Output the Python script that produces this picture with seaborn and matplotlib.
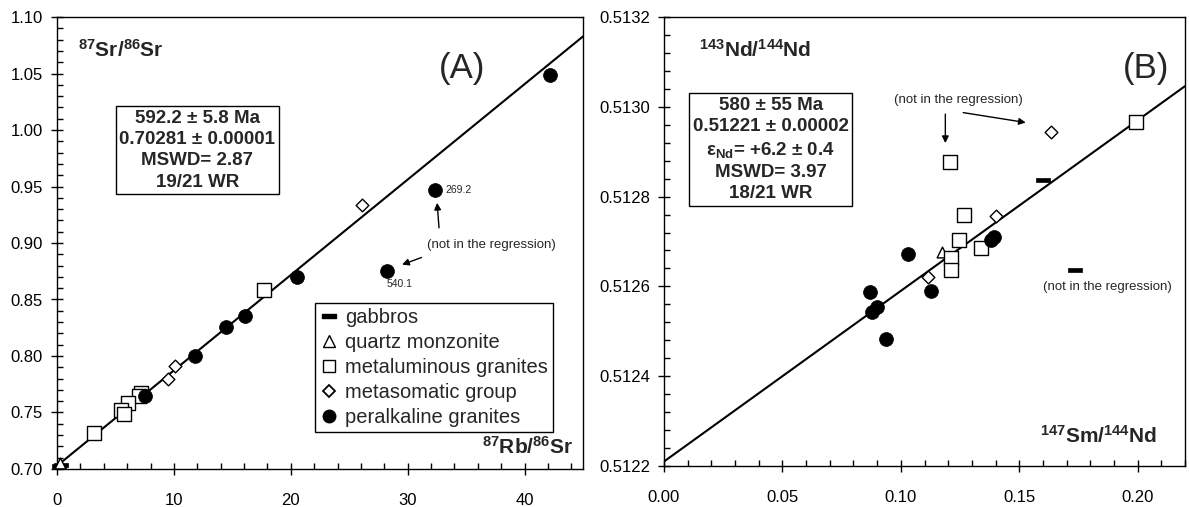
import matplotlib
matplotlib.use("Agg")
import matplotlib.pyplot as plt
import seaborn as sns
import pandas as pd
from matplotlib.ticker import MultipleLocator, FormatStrFormatter
from matplotlib.path import Path
from matplotlib.lines import Line2D

# ---------------- data: panel A (Rb-Sr) ----------------
a_peralk_x = [42.2, 32.3, 28.2, 20.5, 16.1, 14.5, 11.8, 7.5]
a_peralk_y = [1.049, 0.947, 0.875, 0.870, 0.835, 0.826, 0.800, 0.765]
a_metal_x = [17.7, 7.2, 7.0, 6.1, 5.5, 5.7, 3.2]
a_metal_y = [0.858, 0.767, 0.765, 0.758, 0.752, 0.749, 0.732]
a_metas_x = [26.1, 10.1, 9.5]
a_metas_y = [0.934, 0.791, 0.780]
a_qm_x = [0.25]
a_qm_y = [0.7055]
a_gab_x = [0.15, 0.35]
a_gab_y = [0.7028, 0.7034]
a_line_x = [0.0, 45.0]
a_line_y = [0.70281, 1.0828]

# ---------------- data: panel B (Sm-Nd) ----------------
b_peralk_x = [0.0869, 0.0877, 0.0901, 0.0936, 0.1029, 0.1128, 0.1380, 0.1395]
b_peralk_y = [0.512587, 0.512542, 0.512554, 0.512483, 0.512672, 0.512589, 0.512704, 0.512711]
b_metal_x = [0.1994, 0.1207, 0.1268, 0.1247, 0.1337, 0.1212, 0.1212]
b_metal_y = [0.512966, 0.512876, 0.512758, 0.512703, 0.512685, 0.512663, 0.512637]
b_metas_x = [0.1635, 0.1404, 0.1115]
b_metas_y = [0.512944, 0.512757, 0.512622]
b_qm_x = [0.1172]
b_qm_y = [0.512677]
b_gab_x = [0.1600, 0.1734]
b_gab_y = [0.512838, 0.512637]
b_line_x = [0.0, 0.22]
b_line_y = [0.51221, 0.513046]

groups = ["gabbros", "quartz monzonite", "metaluminous granites",
          "metasomatic group", "peralkaline granites"]

sns.set_theme(style="ticks")
plt.rcParams["font.family"] = ["Liberation Sans", "DejaVu Sans"]
plt.rcParams["mathtext.fontset"] = "custom"
plt.rcParams["mathtext.rm"] = "Liberation Sans"
plt.rcParams["mathtext.bf"] = "Liberation Sans:bold"
plt.rcParams["mathtext.it"] = "Liberation Sans:italic"

dash = Path([(-1, -0.3), (1, -0.3), (1, 0.3), (-1, 0.3), (-1, -0.3)],
            [Path.MOVETO, Path.LINETO, Path.LINETO, Path.LINETO, Path.CLOSEPOLY])

styles = {
    "gabbros": dict(marker=dash, color="black", edgecolor="black", s=90, linewidth=0.5),
    "quartz monzonite": dict(marker="^", color="white", edgecolor="black", s=60, linewidth=1.0),
    "metaluminous granites": dict(marker="s", color="white", edgecolor="black", s=90, linewidth=1.0),
    "metasomatic group": dict(marker="D", color="white", edgecolor="black", s=42, linewidth=1.0),
    "peralkaline granites": dict(marker="o", color="black", edgecolor="black", s=100, linewidth=0.5),
}

fig = plt.figure(figsize=(11.89, 5.07), dpi=100)
axA = fig.add_axes([57 / 1189, (507 - 469) / 507, 526 / 1189, 452 / 507])
axB = fig.add_axes([664 / 1189, (507 - 466) / 507, 521 / 1189, 449 / 507])


def draw(ax, sets, line_x, line_y):
    sns.lineplot(x=line_x, y=line_y, ax=ax, color="black", linewidth=1.5, zorder=1)
    for name, (xs, ys) in zip(groups, sets):
        df = pd.DataFrame({"x": xs, "y": ys})
        sns.scatterplot(data=df, x="x", y="y", ax=ax, zorder=3, clip_on=False, **styles[name])
    ax.set_xlabel("")
    ax.set_ylabel("")
    for sp in ax.spines.values():
        sp.set_visible(True)
        sp.set_color("black")
        sp.set_linewidth(1.0)
    ax.tick_params(which="major", direction="inout", length=8, width=1,
                   labelsize=12, colors="black")
    ax.tick_params(which="minor", direction="in", length=4, width=1, colors="black")
    ax.tick_params(axis="x", which="major", pad=13)
    ax.tick_params(axis="y", which="major", pad=6)
    ax.tick_params(top=False, right=False, which="both")


draw(axA, [(a_gab_x, a_gab_y), (a_qm_x, a_qm_y), (a_metal_x, a_metal_y),
           (a_metas_x, a_metas_y), (a_peralk_x, a_peralk_y)], a_line_x, a_line_y)
draw(axB, [(b_gab_x, b_gab_y), (b_qm_x, b_qm_y), (b_metal_x, b_metal_y),
           (b_metas_x, b_metas_y), (b_peralk_x, b_peralk_y)], b_line_x, b_line_y)

# ---- panel A axes ----
axA.set_xlim(0, 45)
axA.set_ylim(0.70, 1.10)
axA.xaxis.set_major_locator(MultipleLocator(10))
axA.xaxis.set_minor_locator(MultipleLocator(2))
axA.yaxis.set_major_locator(MultipleLocator(0.05))
axA.yaxis.set_minor_locator(MultipleLocator(0.01))
axA.yaxis.set_major_formatter(FormatStrFormatter("%.2f"))

# ---- panel B axes ----
axB.set_xlim(0, 0.22)
axB.set_ylim(0.5122, 0.5132)
axB.xaxis.set_major_locator(MultipleLocator(0.05))
axB.xaxis.set_minor_locator(MultipleLocator(0.01))
axB.yaxis.set_major_locator(MultipleLocator(0.0002))
axB.yaxis.set_minor_locator(MultipleLocator(0.00004))
axB.yaxis.set_major_formatter(FormatStrFormatter("%.4f"))
axB.xaxis.set_major_formatter(FormatStrFormatter("%.2f"))

# ---- panel A text ----
axA.text(0.04, 0.912, r"$^{\mathbf{87}}$Sr/$^{\mathbf{86}}$Sr", transform=axA.transAxes,
         fontsize=15, fontweight="bold", ha="left", va="baseline")
axA.text(0.77, 0.885, "(A)", transform=axA.transAxes, fontsize=25, ha="center", va="center")
axA.text(0.267, 0.705, "592.2 \u00b1 5.8 Ma\n0.70281 \u00b1 0.00001\nMSWD= 2.87\n19/21 WR",
         transform=axA.transAxes, fontsize=13.5, fontweight="bold", ha="center", va="center",
         linespacing=1.32,
         bbox=dict(boxstyle="square,pad=0.2", facecolor="white", edgecolor="black", linewidth=1))
axA.text(0.981, 0.033, r"$^{\mathbf{87}}$Rb/$^{\mathbf{86}}$Sr", transform=axA.transAxes,
         fontsize=15, fontweight="bold", ha="right", va="baseline")
axA.text(33.2, 0.947, "269.2", fontsize=7.5, ha="left", va="center")
axA.text(29.3, 0.864, "540.1", fontsize=7.5, ha="center", va="center")
axA.text(37.2, 0.898, "(not in the regression)", fontsize=9.5, ha="center", va="center")
axA.annotate("", xy=(32.5, 0.938), xytext=(32.7, 0.911),
             arrowprops=dict(arrowstyle="-|>", color="black", lw=1, mutation_scale=10))
axA.annotate("", xy=(29.3, 0.880), xytext=(31.4, 0.888),
             arrowprops=dict(arrowstyle="-|>", color="black", lw=1, mutation_scale=10))

handles = [
    Line2D([], [], linestyle="none", marker=dash, markersize=10, color="black"),
    Line2D([], [], linestyle="none", marker="^", markersize=9, markerfacecolor="white",
           markeredgecolor="black", markeredgewidth=1),
    Line2D([], [], linestyle="none", marker="s", markersize=8, markerfacecolor="white",
           markeredgecolor="black", markeredgewidth=1),
    Line2D([], [], linestyle="none", marker="D", markersize=6, markerfacecolor="white",
           markeredgecolor="black", markeredgewidth=1.3),
    Line2D([], [], linestyle="none", marker="o", markersize=9, color="black"),
]
leg = axA.legend(handles, groups, loc="upper left", bbox_to_anchor=(0.49, 0.367),
                 frameon=True, fancybox=False, edgecolor="black", framealpha=1,
                 fontsize=14.5, handlelength=0.9, handletextpad=0.35, labelspacing=0.3,
                 borderpad=0.25, borderaxespad=0)
leg.get_frame().set_linewidth(1.0)

# ---- panel B text ----
axB.text(0.067, 0.912, r"$^{\mathbf{143}}$Nd/$^{\mathbf{144}}$Nd", transform=axB.transAxes,
         fontsize=15, fontweight="bold", ha="left", va="baseline")
axB.text(0.925, 0.885, "(B)", transform=axB.transAxes, fontsize=25, ha="center", va="center")
axB.text(0.205, 0.705,
         "580 \u00b1 55 Ma\n0.51221 \u00b1 0.00002\n\u03b5$_{\\mathbf{Nd}}$= +6.2 \u00b1 0.4\nMSWD= 3.97\n18/21 WR",
         transform=axB.transAxes, fontsize=13.5, fontweight="bold", ha="center", va="center",
         linespacing=1.32,
         bbox=dict(boxstyle="square,pad=0.2", facecolor="white", edgecolor="black", linewidth=1))
axB.text(0.946, 0.051, r"$^{\mathbf{147}}$Sm/$^{\mathbf{144}}$Nd", transform=axB.transAxes,
         fontsize=15, fontweight="bold", ha="right", va="baseline")
axB.text(0.1244, 0.513016, "(not in the regression)", fontsize=9.5, ha="center", va="center")
axB.text(0.1874, 0.512598, "(not in the regression)", fontsize=9.5, ha="center", va="center")
axB.annotate("", xy=(0.1188, 0.512913), xytext=(0.1188, 0.512990),
             arrowprops=dict(arrowstyle="-|>", color="black", lw=1, mutation_scale=10))
axB.annotate("", xy=(0.1539, 0.512964), xytext=(0.1252, 0.512988),
             arrowprops=dict(arrowstyle="-|>", color="black", lw=1, mutation_scale=10))

fig.savefig("out.png", dpi=100, facecolor="white")
